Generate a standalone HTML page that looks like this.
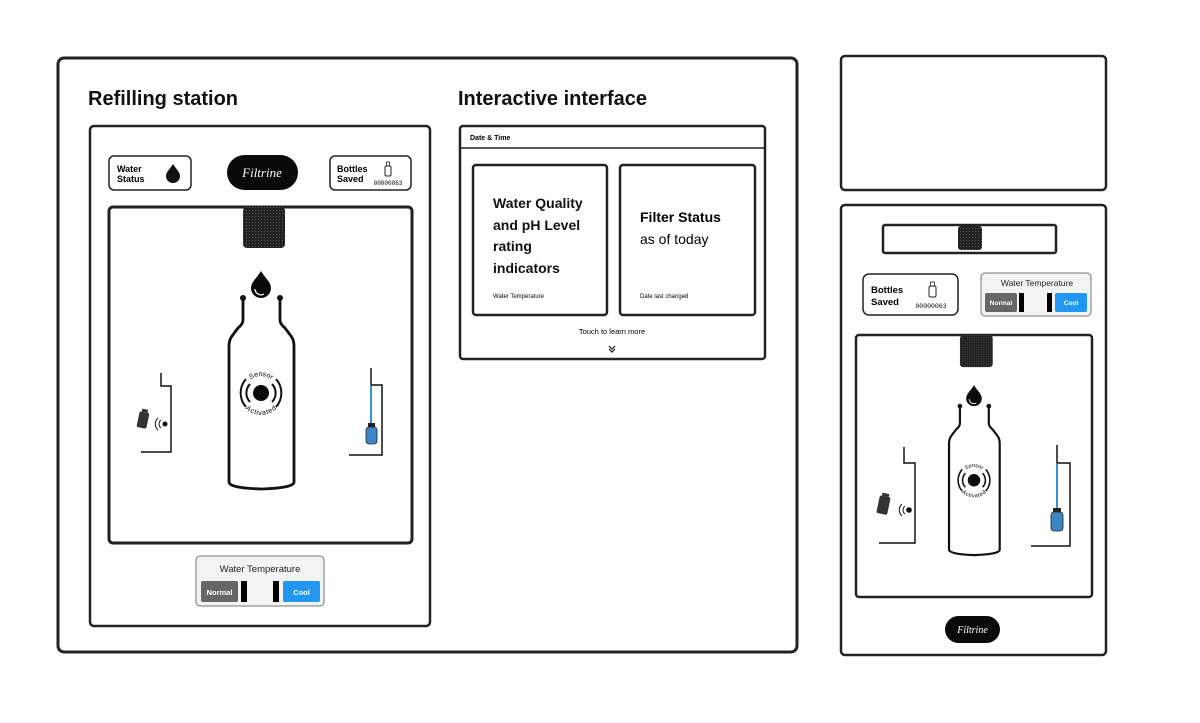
<!DOCTYPE html>
<html><head><meta charset="utf-8"><style>
html,body{margin:0;padding:0;background:#fff;}
svg{display:block;font-family:"Liberation Sans",sans-serif;}
</style></head><body>
<svg width="1200" height="723" viewBox="0 0 1200 723" xmlns="http://www.w3.org/2000/svg">
<defs>
<pattern id="dots" width="3" height="3" patternUnits="userSpaceOnUse"><rect width="3" height="3" fill="#222"/><rect width="1" height="1" fill="#555"/></pattern>
<path id="arcTop" d="M244 393 A17 17 0 0 1 278 393"/>
<path id="arcBot" d="M243 393 A18 18 0 0 0 279 393"/>
</defs>
<rect width="1200" height="723" fill="#fff"/>
<rect x="58" y="58" width="739" height="594" rx="6" fill="none" stroke="#222" stroke-width="3"/>
<text x="88" y="105" font-size="20" font-weight="bold" fill="#111">Refilling station</text>
<text x="458" y="105" font-size="20" font-weight="bold" fill="#111">Interactive interface</text>

<rect x="90" y="126" width="340" height="500" rx="4" fill="none" stroke="#222" stroke-width="2.5"/>
<rect x="109" y="156" width="82" height="34" rx="5" fill="#fff" stroke="#222" stroke-width="1.5"/>
<text x="117" y="172" font-size="9" font-weight="bold">Water</text>
<text x="117" y="182" font-size="9" font-weight="bold">Status</text>
<path d="M173 164 C170 169 166 172 166 176 A7 7 0 0 0 180 176 C180 172 176 169 173 164Z" fill="#111"/>
<rect x="227" y="155" width="71" height="35" rx="17.5" fill="#0a0a0a"/>
<text x="262" y="177" font-size="13" font-style="italic" fill="#fff" text-anchor="middle" font-family="'Liberation Serif',cursive">Filtrine</text>
<rect x="330" y="156" width="81" height="34" rx="5" fill="#fff" stroke="#222" stroke-width="1.5"/>
<text x="337" y="172" font-size="9" font-weight="bold">Bottles</text>
<text x="337" y="182" font-size="9" font-weight="bold">Saved</text>
<rect x="385" y="166" width="6" height="10" rx="1.5" fill="none" stroke="#222" stroke-width="1"/>
<rect x="386.5" y="162" width="3" height="4" fill="none" stroke="#222" stroke-width="0.8"/>
<text x="388" y="185" font-size="6" text-anchor="middle" font-family="'Liberation Mono',monospace">00000063</text>

<rect x="109" y="207" width="303" height="336" rx="4" fill="none" stroke="#222" stroke-width="3"/>
<g>
<rect x="243" y="207" width="42" height="41" rx="4" fill="url(#dots)"/>
<path d="M261 271 C257 278 251 282 251 288 A10 10 0 0 0 271 288 C271 282 265 278 261 271Z" fill="#0a0a0a"/>
<path d="M255 289 A6 6 0 0 0 264 294" stroke="#fff" stroke-width="1.2" fill="none"/>
<path d="M243 298 L243 320 Q243 324 238 328 L232 336 Q229 340 229 346 L229 482 Q229 488 261 489 Q294 488 294 482 L294 346 Q294 340 291 336 L285 328 Q280 324 280 320 L280 298" fill="none" stroke="#111" stroke-width="2.8"/>
<circle cx="243" cy="298" r="3" fill="#111"/><circle cx="280" cy="298" r="3" fill="#111"/>
<circle cx="261" cy="393" r="8" fill="#0a0a0a"/>
<path d="M250 384 A13 13 0 0 0 250 402" fill="none" stroke="#111" stroke-width="2"/>
<path d="M272 384 A13 13 0 0 1 272 402" fill="none" stroke="#111" stroke-width="2"/>
<path d="M246 379 A21 21 0 0 0 246 407" fill="none" stroke="#111" stroke-width="2"/>
<path d="M276 379 A21 21 0 0 1 276 407" fill="none" stroke="#111" stroke-width="2"/>
<text font-size="7"><textPath href="#arcTop" startOffset="50%" text-anchor="middle">Sensor</textPath></text>
<text font-size="7"><textPath href="#arcBot" startOffset="50%" text-anchor="middle" dominant-baseline="hanging">Activated</textPath></text>
</g>
<path d="M161 373 L161 386 L171 386 L171 452 L141 452" fill="none" stroke="#111" stroke-width="1.5"/>
<rect x="138" y="412" width="10" height="16" rx="2" fill="#333" transform="rotate(12 143 420)"/>
<rect x="140" y="409" width="6" height="3" fill="#333" transform="rotate(12 143 420)"/>
<circle cx="165" cy="424" r="2.5" fill="#111"/>
<path d="M161 420 A5 5 0 0 0 161 428 M158 418 A8 8 0 0 0 158 430" fill="none" stroke="#111" stroke-width="1"/>
<path d="M371 368 L371 385 L382 385 L382 455 L349 455" fill="none" stroke="#111" stroke-width="1.5"/>
<line x1="371" y1="386" x2="371" y2="424" stroke="#3b8fd4" stroke-width="2"/>
<rect x="366" y="427" width="11" height="17" rx="3" fill="#3d86c6" stroke="#222" stroke-width="0.8"/>
<rect x="368" y="423" width="7" height="4" fill="#222"/>

<rect x="196" y="556" width="128" height="50" rx="4" fill="#f3f3f3" stroke="#777" stroke-width="1"/>
<text x="260" y="572" font-size="9.5" text-anchor="middle" fill="#222">Water Temperature</text>
<rect x="201" y="581" width="37" height="21" rx="2" fill="#666"/>
<text x="219.5" y="595" font-size="7.5" font-weight="bold" text-anchor="middle" fill="#fff">Normal</text>
<rect x="241" y="581" width="6" height="21" fill="#000"/>
<rect x="273" y="581" width="6" height="21" fill="#000"/>
<rect x="283" y="581" width="37" height="21" rx="2" fill="#2196f3"/>
<text x="301.5" y="595" font-size="7.5" font-weight="bold" text-anchor="middle" fill="#fff">Cool</text>

<rect x="460" y="126" width="305" height="233" rx="3" fill="none" stroke="#222" stroke-width="2.5"/>
<line x1="460" y1="148" x2="765" y2="148" stroke="#222" stroke-width="1.5"/>
<text x="470" y="140" font-size="7" font-weight="bold">Date &amp; Time</text>
<rect x="473" y="165" width="134" height="150" rx="3" fill="none" stroke="#222" stroke-width="2.5"/>
<g font-size="14" font-weight="bold" fill="#111">
<text x="493" y="208">Water Quality</text>
<text x="493" y="230">and pH Level</text>
<text x="493" y="251">rating</text>
<text x="493" y="273">indicators</text>
</g>
<text x="493" y="298" font-size="6">Water Temperature</text>
<rect x="620" y="165" width="135" height="150" rx="3" fill="none" stroke="#222" stroke-width="2.5"/>
<text x="640" y="222" font-size="14" font-weight="bold">Filter Status</text>
<text x="640" y="244" font-size="14">as of today</text>
<text x="640" y="298" font-size="6">Date last changed</text>
<text x="612" y="334" font-size="7.5" text-anchor="middle">Touch to learn more</text>
<path d="M609 346 L612 349 L615 346 M609 349 L612 352 L615 349" fill="none" stroke="#111" stroke-width="1.2"/>

<rect x="841" y="56" width="265" height="134" rx="4" fill="none" stroke="#222" stroke-width="2.5"/>
<rect x="841" y="205" width="265" height="450" rx="4" fill="none" stroke="#222" stroke-width="2.5"/>
<rect x="883" y="225" width="173" height="28" rx="2" fill="none" stroke="#222" stroke-width="2.5"/>
<rect x="958" y="226" width="24" height="24" rx="3" fill="url(#dots)"/>
<rect x="863" y="274" width="95" height="41" rx="6" fill="none" stroke="#222" stroke-width="1.5"/>
<text x="871" y="293" font-size="9.5" font-weight="bold">Bottles</text>
<text x="871" y="305" font-size="9.5" font-weight="bold">Saved</text>
<rect x="929" y="286" width="7" height="11" rx="1.5" fill="none" stroke="#222" stroke-width="1"/>
<rect x="930.5" y="282" width="4" height="4" fill="none" stroke="#222" stroke-width="0.8"/>
<text x="931" y="308" font-size="6.5" text-anchor="middle" font-family="'Liberation Mono',monospace">00000063</text>
<rect x="981" y="273" width="110" height="43" rx="4" fill="#f3f3f3" stroke="#777" stroke-width="1"/>
<text x="1037" y="286" font-size="8.5" text-anchor="middle" fill="#222">Water Temperature</text>
<rect x="985" y="293" width="32" height="19" rx="2" fill="#666"/>
<text x="1001" y="305" font-size="6.5" font-weight="bold" text-anchor="middle" fill="#fff">Normal</text>
<rect x="1019" y="293" width="5" height="19" fill="#000"/>
<rect x="1047" y="293" width="5" height="19" fill="#000"/>
<rect x="1055" y="293" width="32" height="19" rx="2" fill="#2196f3"/>
<text x="1071" y="305" font-size="6.5" font-weight="bold" text-anchor="middle" fill="#fff">Cool</text>
<rect x="856" y="335" width="236" height="262" rx="3" fill="none" stroke="#222" stroke-width="2.5"/>
<g transform="translate(770.4 173.7) scale(0.78)">
<rect x="243" y="207" width="42" height="41" rx="4" fill="url(#dots)"/>
<path d="M261 271 C257 278 251 282 251 288 A10 10 0 0 0 271 288 C271 282 265 278 261 271Z" fill="#0a0a0a"/>
<path d="M255 289 A6 6 0 0 0 264 294" stroke="#fff" stroke-width="1.2" fill="none"/>
<path d="M243 298 L243 320 Q243 324 238 328 L232 336 Q229 340 229 346 L229 482 Q229 488 261 489 Q294 488 294 482 L294 346 Q294 340 291 336 L285 328 Q280 324 280 320 L280 298" fill="none" stroke="#111" stroke-width="2.8"/>
<circle cx="243" cy="298" r="3" fill="#111"/><circle cx="280" cy="298" r="3" fill="#111"/>
<circle cx="261" cy="393" r="8" fill="#0a0a0a"/>
<path d="M250 384 A13 13 0 0 0 250 402" fill="none" stroke="#111" stroke-width="2"/>
<path d="M272 384 A13 13 0 0 1 272 402" fill="none" stroke="#111" stroke-width="2"/>
<path d="M246 379 A21 21 0 0 0 246 407" fill="none" stroke="#111" stroke-width="2"/>
<path d="M276 379 A21 21 0 0 1 276 407" fill="none" stroke="#111" stroke-width="2"/>
<text font-size="7"><textPath href="#arcTop" startOffset="50%" text-anchor="middle">Sensor</textPath></text>
<text font-size="7"><textPath href="#arcBot" startOffset="50%" text-anchor="middle" dominant-baseline="hanging">Activated</textPath></text>
</g>
<path d="M904 447 L904 463 L915 463 L915 543 L879 543" fill="none" stroke="#111" stroke-width="1.5"/>
<rect x="878" y="496" width="11" height="18" rx="2" fill="#333" transform="rotate(12 883 505)"/>
<rect x="880" y="493" width="7" height="3" fill="#333" transform="rotate(12 883 505)"/>
<circle cx="909" cy="510" r="2.8" fill="#111"/>
<path d="M905 506 A5 5 0 0 0 905 514 M902 504 A8 8 0 0 0 902 516" fill="none" stroke="#111" stroke-width="1"/>
<path d="M1057 445 L1057 463 L1070 463 L1070 546 L1031 546" fill="none" stroke="#111" stroke-width="1.5"/>
<line x1="1057" y1="464" x2="1057" y2="509" stroke="#3b8fd4" stroke-width="2"/>
<rect x="1051" y="512" width="12" height="19" rx="3" fill="#3d86c6" stroke="#222" stroke-width="0.8"/>
<rect x="1053" y="508" width="8" height="4" fill="#222"/>
<rect x="945" y="616" width="55" height="27" rx="13.5" fill="#0a0a0a"/>
<text x="972.5" y="633" font-size="10" font-style="italic" fill="#fff" text-anchor="middle" font-family="'Liberation Serif',cursive">Filtrine</text>
</svg>
</body></html>
